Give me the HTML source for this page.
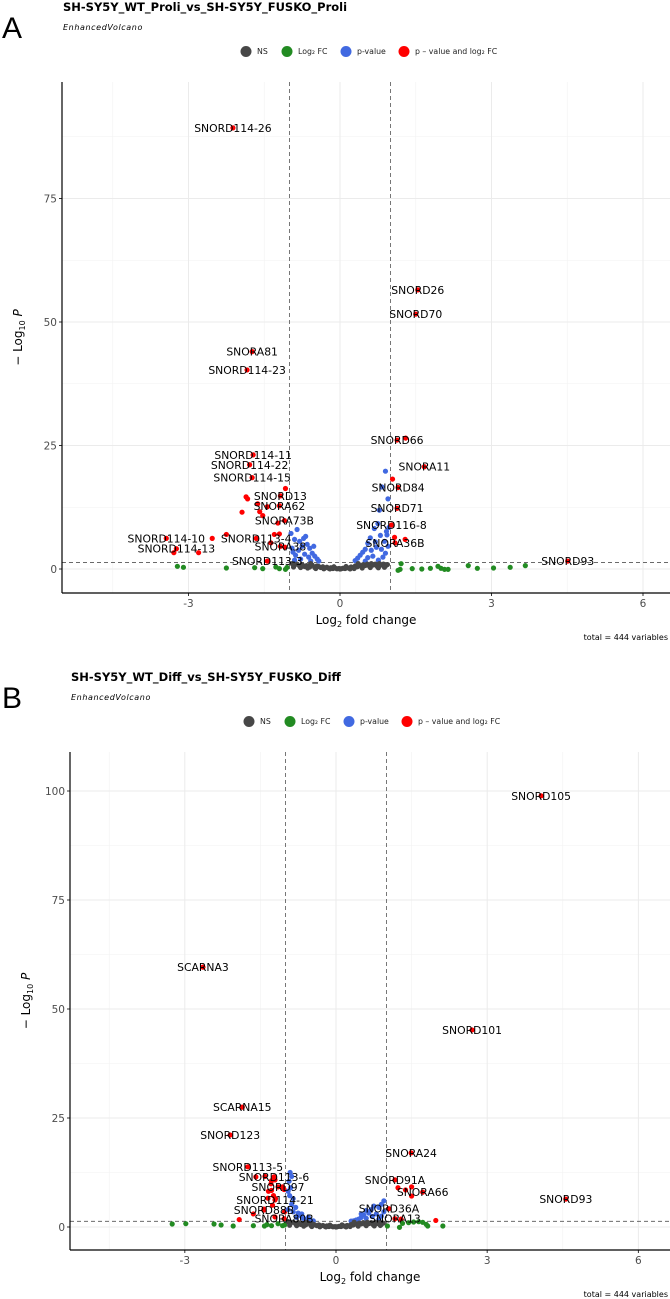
<!DOCTYPE html>
<html><head><meta charset="utf-8">
<style>
body{margin:0;background:#fff;}
svg{display:block;font-family:"DejaVu Sans","Liberation Sans",sans-serif;}
</style></head>
<body>
<svg id="fig" width="670" height="1299" viewBox="0 0 670 1299" xmlns="http://www.w3.org/2000/svg"></svg>
<script>
// ---------- Panel A data ----------
const aXTicks = [-3, 0, 3, 6];
const aYTicks = [0, 25, 50, 75];
const aLabeled = [
  ["SNORD114-26",-2.12,89.3],["SNORD26",1.54,56.5],["SNORD70",1.50,51.6],["SNORA81",-1.74,44.0],
  ["SNORD114-23",-1.84,40.3],["SNORD66",1.13,26.1],["SNORA11",1.67,20.7],["SNORD84",1.15,16.5],
  ["SNORD71",1.13,12.3],["SNORD116-8",1.02,8.9],["SNORA36B",1.09,5.3],["SNORD93",4.51,1.6],
  ["SNORD114-11",-1.72,23.1],["SNORD114-22",-1.79,21.1],["SNORD114-15",-1.74,18.5],["SNORD13",-1.18,14.8],
  ["SNORA62",-1.20,12.8],["SNORA73B",-1.10,9.8],["SNORD114-10",-3.44,6.2],["SNORD113-4",-1.66,6.2],
  ["SNORD114-13",-3.24,4.1],["SNORA38",-1.18,4.6],["SNORD113-3",-1.44,1.6]
];
const aPoints = [
  [1.30,26.5],[1.04,18.2],[1.08,6.4],[1.29,6.0],[-1.08,16.3],[-1.86,14.6],[-1.83,14.2],[-1.63,13.2],
  [-1.44,12.6],[-1.59,11.6],[-1.53,10.8],[-1.94,11.5],[-1.23,9.3],[-1.30,7.0],[-1.20,7.1],[-2.25,7.0],
  [-2.53,6.2],[-1.37,5.3],[-3.29,3.3],[-2.80,3.3],[-1.09,4.4],
  [-3.22,0.54],[-3.10,0.34],[-2.25,0.2],[-1.69,0.27],[-1.53,0.07],[-1.27,0.4],[-1.20,0.07],[-1.08,-0.07],[-1.05,0.3],
  [1.21,1.08],[1.19,-0.07],[1.15,-0.27],[1.43,0.07],[1.62,0],[1.79,0.14],[1.94,0.54],[2.0,0.14],[2.07,-0.07],
  [2.14,-0.07],[2.54,0.68],[2.72,0.14],[3.04,0.2],[3.37,0.34],[3.67,0.68],
  [-0.85,8.0],[-0.9,6.0],[-0.8,5.6],[-0.72,6.2],[-0.65,5.0],[-0.6,4.2],[-0.55,3.2],[-0.5,2.6],[-0.45,2.0],
  [-0.42,1.6],[-0.75,4.6],[-0.82,3.8],[-0.88,2.8],[-0.7,3.0],[-0.62,2.4],[-0.95,4.2],[-0.78,2.0],[-0.58,1.6],
  [-0.9,1.8],[-0.68,6.6],[-0.52,4.6],[-0.97,7.2],[-0.93,3.4],
  [0.9,19.8],[0.83,16.6],[0.95,14.2],[0.78,11.9],[0.75,9.2],[0.68,8.2],[0.6,6.3],[0.55,5.2],[0.7,5.5],
  [0.8,6.8],[0.88,5.6],[0.93,6.9],[0.5,4.0],[0.45,3.4],[0.4,2.8],[0.35,2.2],[0.3,1.7],[0.62,3.8],[0.72,4.4],
  [0.82,4.0],[0.9,3.2],[0.95,4.6],[0.65,2.6],[0.55,2.3],[0.85,2.4],[0.76,1.8],[0.5,1.6],[0.97,8.4],[0.92,7.6],
  [-0.95,1.1],[-0.9,0.8],[-0.85,1.0],[-0.8,0.6],[-0.75,0.9],[-0.7,0.5],[-0.66,0.7],[-0.6,0.4],[-0.55,0.8],
  [-0.5,0.3],[-0.46,0.6],[-0.42,0.5],[-0.38,0.3],[-0.34,0.45],[-0.3,0.2],[-0.26,0.35],[-0.22,0.15],[-0.18,0.25],
  [-0.14,0.1],[-0.1,0.2],[-0.06,0.05],[-0.02,0.1],[0.02,0.05],[0.06,0.15],[0.1,0.1],[0.14,0.25],[0.18,0.2],
  [0.22,0.4],[0.26,0.3],[0.3,0.6],[0.34,0.45],[0.38,0.8],[0.42,0.55],[0.46,0.9],[0.5,0.7],[0.54,1.0],[0.58,0.6],
  [0.62,1.1],[0.66,0.8],[0.7,1.0],[0.74,0.5],[0.78,1.1],[0.82,0.8],[0.86,1.0],[0.9,0.6],[0.94,0.9],[-0.92,0.4],
  [-0.78,0.3],[-0.64,0.2],[-0.48,0.1],[-0.32,0.05],[0.28,0.1],[0.44,0.2],[0.6,0.3],[0.76,0.25],[0.88,0.35],
  [-0.2,0.02],[0.2,0.02],[0,0],[-0.58,1.1],[0.36,1.1],[0.12,0.5],[-0.12,0.45]
];
// ---------- Panel B data ----------
const bXTicks = [-3, 0, 3, 6];
const bYTicks = [0, 25, 50, 75, 100];
const bLabeled = [
  ["SNORD105",4.07,98.9],["SCARNA3",-2.64,59.6],["SNORD101",2.70,45.2],["SCARNA15",-1.86,27.5],
  ["SNORD123",-2.10,21.1],["SNORA24",1.49,17.0],["SNORD113-5",-1.75,13.8],["SNORD113-6",-1.23,11.5],
  ["SNORD91A",1.17,10.8],["SNORD97",-1.15,9.2],["SNORA66",1.72,8.0],["SNORD93",4.56,6.4],
  ["SNORD114-21",-1.21,6.2],["SNORD36A",1.05,4.2],["SNORD88B",-1.43,3.9],["SNORA13",1.17,1.9],["SNORA80B",-1.03,1.9]
];
const bPoints = [
  [1.50,9.2],[1.50,7.1],[1.23,9.0],[1.38,8.5],[1.29,1.8],[1.98,1.5],
  [-1.59,11.5],[-1.41,11.6],[-1.28,10.6],[-1.21,10.8],[-1.29,9.9],[-1.06,9.2],[-1.03,8.6],[-1.34,8.2],[-1.28,8.4],
  [-1.24,7.2],[-1.35,6.6],[-1.2,6.5],[-1.26,5.0],[-1.43,4.1],[-1.64,3.0],[-1.92,1.7],[-1.02,3.5],[-1.21,2.3],
  [-3.25,0.69],[-2.98,0.76],[-2.42,0.69],[-2.28,0.46],[-2.04,0.23],[-1.64,0.3],[-1.42,0.23],[-1.37,0.54],
  [-1.28,0.3],[-1.15,0.76],[-1.06,0.3],[-1.02,0.46],
  [1.02,0.23],[1.26,-0.08],[1.32,0.84],[1.44,0.99],[1.54,1.15],[1.64,1.22],[1.72,1.07],[1.79,0.61],[1.82,0.23],[2.12,0.23],
  [-0.91,12.5],[-0.88,11.6],[-0.93,10.5],[-0.9,9.0],[-0.92,7.2],[-0.85,6.5],[-0.88,5.2],[-0.8,4.5],[-0.75,3.2],
  [-0.7,2.6],[-0.65,2.0],[-0.6,1.6],[-0.55,2.2],[-0.5,1.5],[-0.85,3.5],[-0.95,4.0],[-0.78,2.2],[-0.95,8.2],[-0.68,3.0],[-0.45,1.4],
  [0.95,6.0],[0.9,5.2],[0.85,4.5],[0.75,4.8],[0.7,4.0],[0.65,3.2],[0.6,3.8],[0.55,2.8],[0.5,2.2],[0.45,1.8],
  [0.4,1.6],[0.35,1.4],[0.8,3.0],[0.9,2.5],[0.95,3.5],[0.6,2.0],[0.72,2.4],[0.85,1.8],[0.3,1.35],[0.5,3.0],
  [-0.95,1.2],[-0.9,0.9],[-0.85,1.1],[-0.8,0.7],[-0.75,1.0],[-0.7,0.6],[-0.66,0.8],[-0.6,0.5],[-0.55,0.9],
  [-0.5,0.4],[-0.46,0.7],[-0.42,0.5],[-0.38,0.3],[-0.34,0.5],[-0.3,0.25],[-0.26,0.35],[-0.22,0.15],[-0.18,0.25],
  [-0.14,0.1],[-0.1,0.2],[-0.06,0.05],[-0.02,0.1],[0.02,0.05],[0.06,0.15],[0.1,0.1],[0.14,0.25],[0.18,0.2],
  [0.22,0.35],[0.26,0.3],[0.3,0.55],[0.34,0.45],[0.38,0.75],[0.42,0.55],[0.46,0.9],[0.5,0.7],[0.54,1.0],[0.58,0.6],
  [0.62,1.1],[0.66,0.8],[0.7,1.0],[0.74,0.5],[0.78,1.1],[0.82,0.8],[0.86,1.0],[0.9,0.6],[0.94,0.9],[-0.92,0.4],
  [-0.78,0.3],[-0.64,0.2],[-0.48,0.1],[-0.32,0.05],[0.28,0.1],[0.44,0.2],[0.6,0.3],[0.76,0.25],[0.88,0.35],
  [-0.2,0.02],[0.2,0.02],[0,0],[-0.58,1.1],[0.36,1.1],[0.12,0.5],[-0.12,0.45]
];
const legendNames = ["NS","Log\u2082 FC","p-value","p \u2013 value and log\u2082 FC"];
const FC = 1, PCUT = 1.30103;

const NS = "http://www.w3.org/2000/svg";
const svg = document.getElementById("fig");
function mk(tag, attrs, parent){
  const e = document.createElementNS(NS, tag);
  for (const k in attrs) e.setAttribute(k, attrs[k]);
  (parent||svg).appendChild(e);
  return e;
}
function colorOf(x,y){
  const f = Math.abs(x) > FC, p = y > PCUT;
  if (f && p) return "#FF0000";
  if (p) return "#4169E1";
  if (f) return "#228B22";
  return "#474747";
}

function panel(cfg, xTicks, yTicks, points, labeled, letter, title, tag){
  const g = mk("g", {});
  
  
  const X = v => cfg.x0 + v*cfg.xs;
  const Y = v => cfg.y0 - v*cfg.ys;
  const L = mk("text",{x:2,y:cfg.top-44,"font-size":30,fill:"#000","font-family":"Liberation Sans, sans-serif"},g);
  L.textContent = letter;
  
  
  const T = mk("text",{x:cfg.left+1,y:cfg.top-71,"font-size":11.5,"font-weight":"bold",fill:"#000"},g);
  T.textContent = title;
  
  
  const S = mk("text",{x:cfg.left+1,y:cfg.top-52,"font-size":8,"font-style":"italic",fill:"#000","letter-spacing":"0.6"},g);
  S.textContent = "EnhancedVolcano";
  
  
  const lg = mk("g",{},g);
  
  
  const lcol = ["#474747","#228B22","#4169E1","#FF0000"];
  const lx = cfg.legX;
  for (let i=0;i<4;i++){
    const c = mk("circle",{cx:lx[i],cy:cfg.top-30.5,r:5.5,fill:lcol[i]},lg);
    
    
    const t = mk("text",{x:lx[i]+11,y:cfg.top-28,"font-size":7.8,fill:"#222"},lg);
    t.textContent = legendNames[i];
    
    
  }
  for (let v=-4.5; v<=6; v+=3){
    const l = mk("line",{x1:X(v),x2:X(v),y1:cfg.top,y2:cfg.bottom,stroke:"#F2F2F2","stroke-width":0.6},g);
    
    
  }
  for (let v=12.5; Y(v)>cfg.top; v+=25){
    const l = mk("line",{x1:cfg.left,x2:670,y1:Y(v),y2:Y(v),stroke:"#F2F2F2","stroke-width":0.6},g);
    
    
  }
  xTicks.forEach(v=>{
    const l = mk("line",{x1:X(v),x2:X(v),y1:cfg.top,y2:cfg.bottom,stroke:"#EBEBEB","stroke-width":1},g);
    
    
    const tk = mk("line",{x1:X(v),x2:X(v),y1:cfg.bottom,y2:cfg.bottom+3,stroke:"#333","stroke-width":1},g);
    
    
    const t = mk("text",{x:X(v),y:cfg.bottom+14,"font-size":10.5,fill:"#4d4d4d","text-anchor":"middle"},g);
    t.textContent = v;
    
    
  });
  yTicks.forEach(v=>{
    const l = mk("line",{x1:cfg.left,x2:670,y1:Y(v),y2:Y(v),stroke:"#EBEBEB","stroke-width":1},g);
    
    
    const tk = mk("line",{x1:cfg.left-3,x2:cfg.left,y1:Y(v),y2:Y(v),stroke:"#333","stroke-width":1},g);
    
    
    const t = mk("text",{x:cfg.left-5,y:Y(v)+4,"font-size":10.5,fill:"#4d4d4d","text-anchor":"end"},g);
    t.textContent = v;
    
    
  });
  [-FC, FC].forEach(v=>{
    const l = mk("line",{x1:X(v),x2:X(v),y1:cfg.top,y2:cfg.bottom,stroke:"#555","stroke-width":0.8,"stroke-dasharray":"4,3"},g);
    
    
  });
  const hl = mk("line",{x1:cfg.left,x2:670,y1:Y(PCUT),y2:Y(PCUT),stroke:"#555","stroke-width":0.8,"stroke-dasharray":"4,3"},g);
  
  
  const pts = mk("g",{},g);
  
  
  points.concat(labeled.map(d=>[d[1],d[2]])).forEach(p=>{
    const c = mk("circle",{cx:X(p[0]),cy:Y(p[1]),r:2.6,fill:colorOf(p[0],p[1])},pts);
    
    
  });
  labeled.forEach(d=>{
    const t = mk("text",{x:X(d[1]),y:Y(d[2])+4,"font-size":10.8,fill:"#000","text-anchor":"middle"},g);
    t.textContent = d[0];
    
    
  });
  const ax = mk("line",{x1:cfg.left,x2:670,y1:cfg.bottom,y2:cfg.bottom,stroke:"#000","stroke-width":1.2},g);
  
  
  const ay = mk("line",{x1:cfg.left,x2:cfg.left,y1:cfg.top,y2:cfg.bottom,stroke:"#000","stroke-width":1.2},g);
  
  
  const xt = mk("text",{x:(cfg.left+670)/2,y:cfg.bottom+31,"font-size":12,fill:"#000","text-anchor":"middle"},g);
  xt.innerHTML = 'Log<tspan font-size="8" dy="3">2</tspan><tspan dy="-3"> fold change</tspan>';
  
  
  const yc = (cfg.top+cfg.bottom)/2;
  const yt = mk("text",{x:cfg.left-40,y:yc,"font-size":12,fill:"#000","text-anchor":"middle",transform:`rotate(-90 ${cfg.left-40} ${yc})`},g);
  yt.innerHTML = '\u2212 Log<tspan font-size="8" dy="3">10</tspan><tspan dy="-3" font-style="italic"> P</tspan>';
  
  
  const cap = mk("text",{x:668,y:cfg.bottom+47,"font-size":8,fill:"#000","text-anchor":"end"},g);
  cap.textContent = "total = 444 variables";
  
  
}

panel({left:62,top:82,bottom:593,x0:340,xs:50.5,y0:569,ys:4.94,legX:[246,287,346,404]},
  aXTicks,aYTicks,aPoints,aLabeled,"A","SH-SY5Y_WT_Proli_vs_SH-SY5Y_FUSKO_Proli","proli");
panel({left:70,top:752,bottom:1250,x0:336,xs:50.4,y0:1227,ys:4.36,legX:[249,290,349,407]},
  bXTicks,bYTicks,bPoints,bLabeled,"B","SH-SY5Y_WT_Diff_vs_SH-SY5Y_FUSKO_Diff","diff");
</script>
</body></html>
